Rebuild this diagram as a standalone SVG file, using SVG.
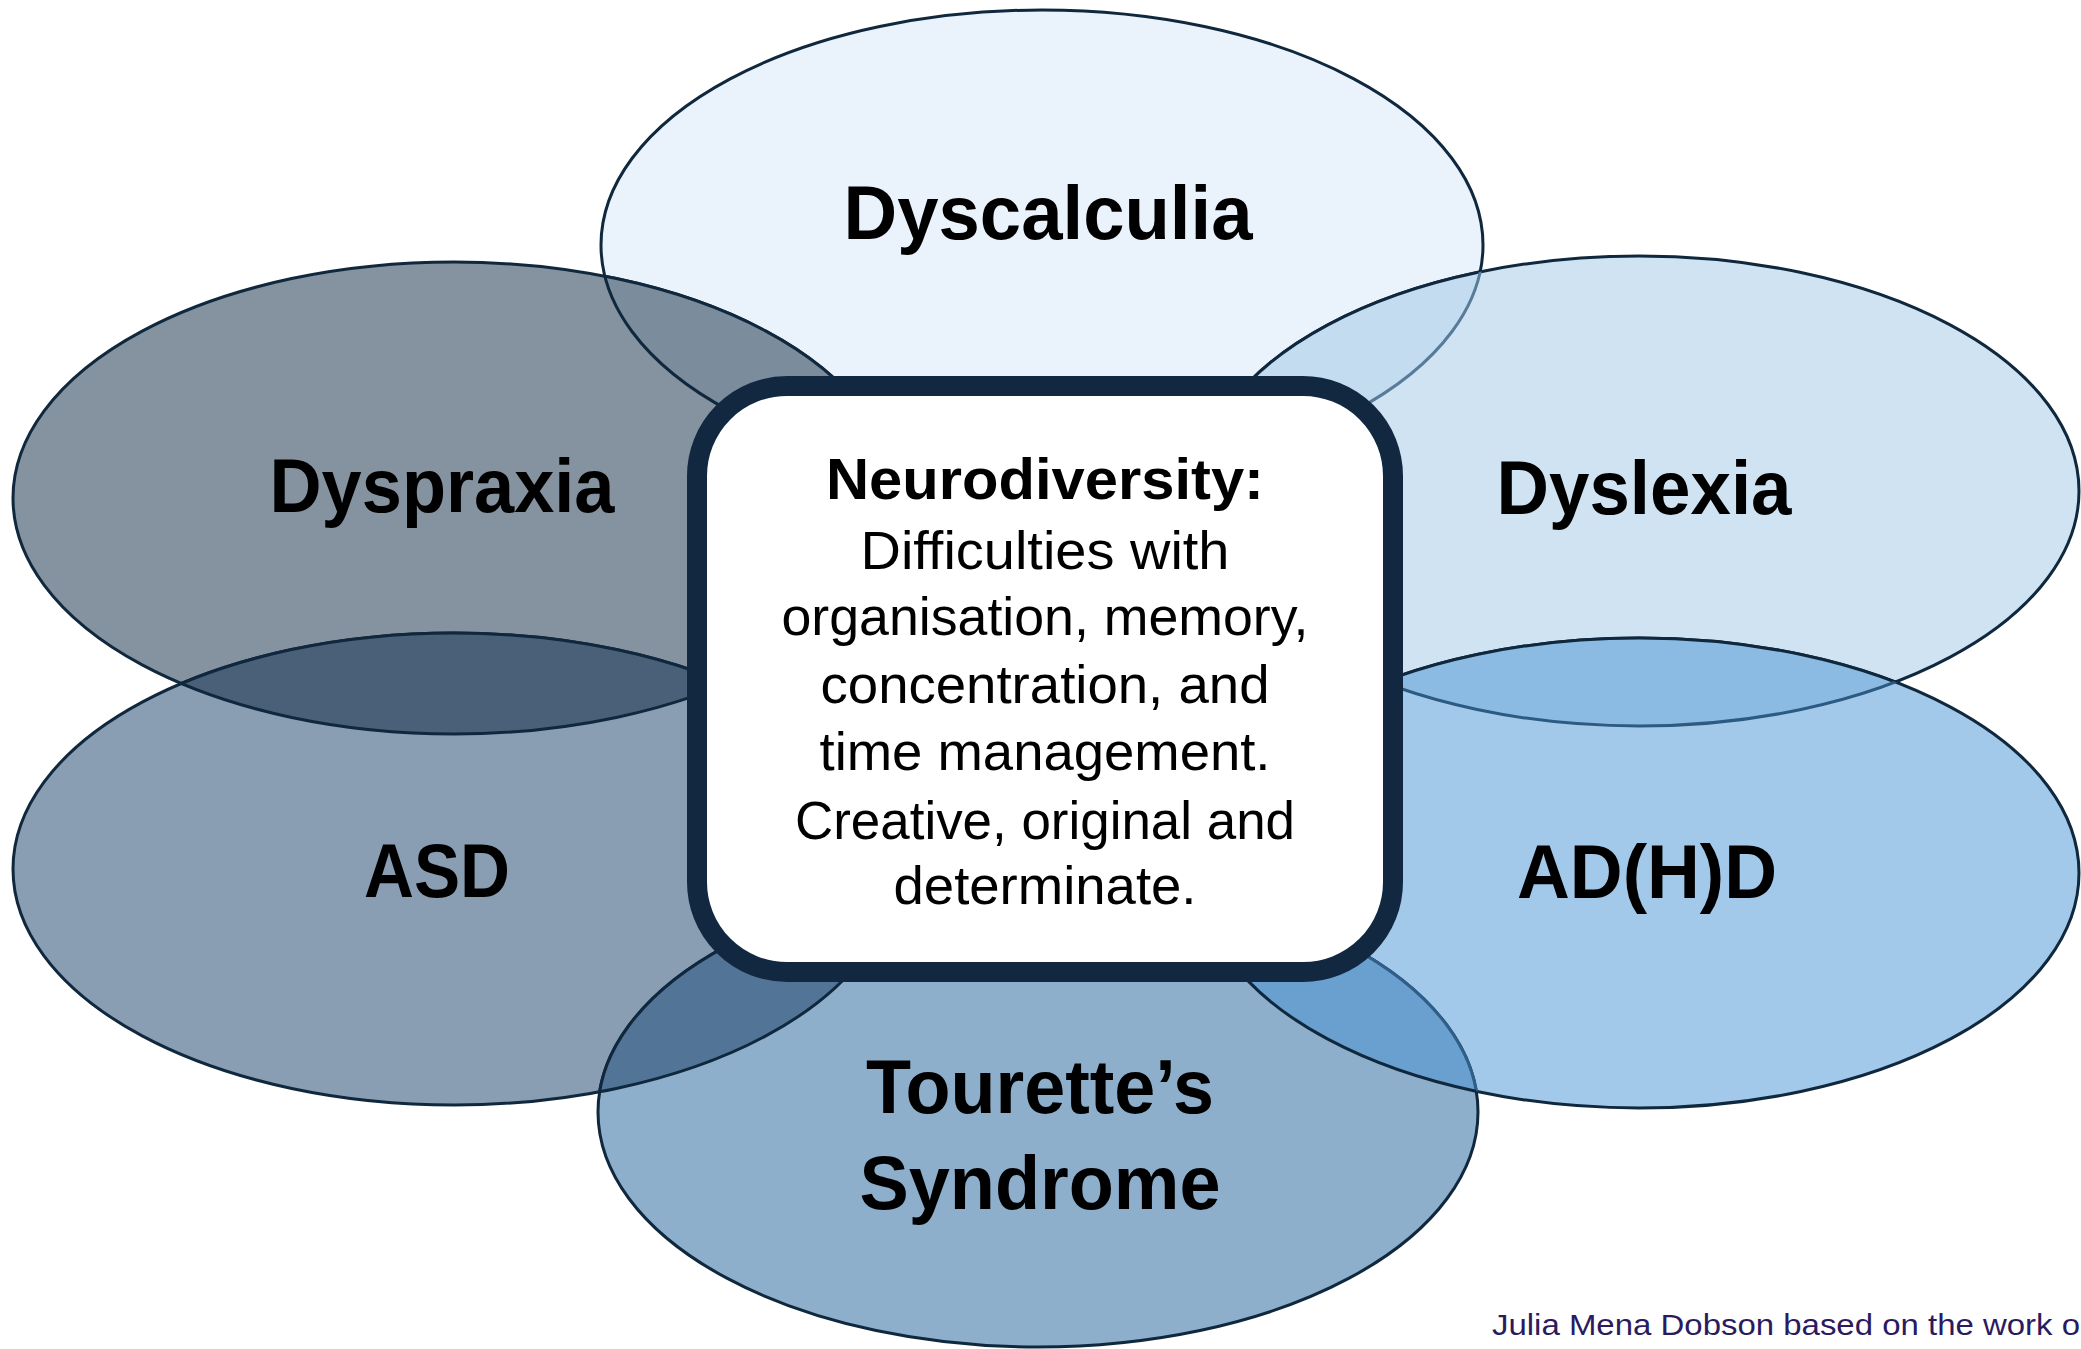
<svg xmlns="http://www.w3.org/2000/svg" width="2081" height="1349" viewBox="0 0 2081 1349">
  <style>
    .ring { stroke: #10283d; stroke-width: 3; }
    .label { font-family: "Liberation Sans", Arial, sans-serif; font-weight: bold; font-size: 76px; fill: #000; text-anchor: middle; }
    .head { font-family: "Liberation Sans", Arial, sans-serif; font-weight: bold; font-size: 58px; fill: #000; text-anchor: middle; }
    .body { font-family: "Liberation Sans", Arial, sans-serif; font-size: 54px; fill: #000; text-anchor: middle; }
    .credit { font-family: "Liberation Sans", Arial, sans-serif; font-size: 30px; fill: #2b1b5e; }
  </style>
  <defs>
    <clipPath id="clip-dyscalculia"><ellipse cx="1042" cy="245" rx="441" ry="235"/></clipPath>
    <clipPath id="clip-dyspraxia"><ellipse cx="454" cy="498" rx="441" ry="236"/></clipPath>
    <clipPath id="clip-dyslexia"><ellipse cx="1639" cy="491" rx="440" ry="235"/></clipPath>
    <clipPath id="clip-asd"><ellipse cx="454" cy="869" rx="441" ry="236"/></clipPath>
    <clipPath id="clip-adhd"><ellipse cx="1639" cy="873" rx="440" ry="235"/></clipPath>
    <clipPath id="clip-tourette"><ellipse cx="1038" cy="1112" rx="440" ry="235"/></clipPath>
  </defs>

  <rect width="2081" height="1349" fill="#ffffff"/>

  <!-- petals -->
  <g id="dyscalculia">
    <ellipse class="ring" cx="1042" cy="245" rx="441" ry="235" fill="#eaf2fb"/>
    <text class="label" x="1048" y="239" textLength="409" lengthAdjust="spacingAndGlyphs">Dyscalculia</text>
  </g>
  <g id="dyspraxia">
    <ellipse class="ring" cx="454" cy="498" rx="441" ry="236" fill="#8592a0"/>
    <text class="label" x="442" y="512" textLength="345" lengthAdjust="spacingAndGlyphs">Dyspraxia</text>
  </g>
  <g id="dyslexia">
    <ellipse class="ring" cx="1639" cy="491" rx="440" ry="235" fill="#d0e3f2"/>
    <text class="label" x="1644" y="514" textLength="295" lengthAdjust="spacingAndGlyphs">Dyslexia</text>
  </g>
  <g id="asd">
    <ellipse class="ring" cx="454" cy="869" rx="441" ry="236" fill="#8a9eb3"/>
    <text class="label" x="437" y="897" textLength="146" lengthAdjust="spacingAndGlyphs">ASD</text>
  </g>
  <g id="adhd">
    <ellipse class="ring" cx="1639" cy="873" rx="440" ry="235" fill="#a3c9ea"/>
    <text class="label" x="1647" y="898" textLength="260" lengthAdjust="spacingAndGlyphs">AD(H)D</text>
  </g>
  <g id="tourettes">
    <ellipse class="ring" cx="1038" cy="1112" rx="440" ry="235" fill="#8dafcc"/>
    <text class="label" x="1040" y="1113" textLength="348" lengthAdjust="spacingAndGlyphs">Tourette’s</text>
    <text class="label" x="1040" y="1209" textLength="361" lengthAdjust="spacingAndGlyphs">Syndrome</text>
  </g>

  <!-- overlapping lenses between neighbouring petals -->
  <g id="overlaps">
    <g clip-path="url(#clip-dyscalculia)">
      <ellipse class="ring" cx="454" cy="498" rx="441" ry="236" fill="#7b8c9c"/>
      <ellipse class="ring" cx="1639" cy="491" rx="440" ry="235" fill="#c4dcf0"/>
    </g>
    <g clip-path="url(#clip-dyspraxia)">
      <ellipse class="ring" cx="1042" cy="245" rx="441" ry="235" fill="none"/>
      <ellipse class="ring" cx="454" cy="869" rx="441" ry="236" fill="#4a6078"/>
    </g>
    <g clip-path="url(#clip-asd)">
      <ellipse class="ring" cx="454" cy="498" rx="441" ry="236" fill="none"/>
      <ellipse class="ring" cx="1038" cy="1112" rx="440" ry="235" fill="#527597"/>
    </g>
    <g clip-path="url(#clip-tourette)">
      <ellipse class="ring" cx="454" cy="869" rx="441" ry="236" fill="none"/>
    </g>
    <g clip-path="url(#clip-dyslexia)">
      <ellipse cx="1042" cy="245" rx="441" ry="235" fill="none" stroke="#587b9a" stroke-width="3"/>
      <ellipse class="ring" cx="1639" cy="873" rx="440" ry="235" fill="#8bbbe3"/>
    </g>
    <g clip-path="url(#clip-adhd)">
      <ellipse cx="1639" cy="491" rx="440" ry="235" fill="none" stroke="#2d5a80" stroke-width="3"/>
      <ellipse cx="1038" cy="1112" rx="440" ry="235" fill="#6aa0cf" stroke="#2f5f88" stroke-width="3"/>
    </g>
    <g clip-path="url(#clip-tourette)">
      <ellipse class="ring" cx="1639" cy="873" rx="440" ry="235" fill="none"/>
    </g>
  </g>

  <!-- central summary card -->
  <g id="neurodiversity">
    <rect x="697" y="386" width="696" height="586" rx="90" ry="90" fill="#ffffff" stroke="#112840" stroke-width="20"/>
    <text class="head" x="1045" y="499" textLength="438" lengthAdjust="spacingAndGlyphs">Neurodiversity:</text>
    <text class="body" x="1045" y="569" textLength="369" lengthAdjust="spacingAndGlyphs">Difficulties with</text>
    <text class="body" x="1045" y="635" textLength="527" lengthAdjust="spacingAndGlyphs">organisation, memory,</text>
    <text class="body" x="1045" y="703" textLength="449" lengthAdjust="spacingAndGlyphs">concentration, and</text>
    <text class="body" x="1045" y="770" textLength="451" lengthAdjust="spacingAndGlyphs">time management.</text>
    <text class="body" x="1045" y="839" textLength="500" lengthAdjust="spacingAndGlyphs">Creative, original and</text>
    <text class="body" x="1045" y="904" textLength="303" lengthAdjust="spacingAndGlyphs">determinate.</text>
  </g>

  <text class="credit" x="1492" y="1335" textLength="588" lengthAdjust="spacingAndGlyphs">Julia Mena Dobson based on the work o</text>
</svg>
